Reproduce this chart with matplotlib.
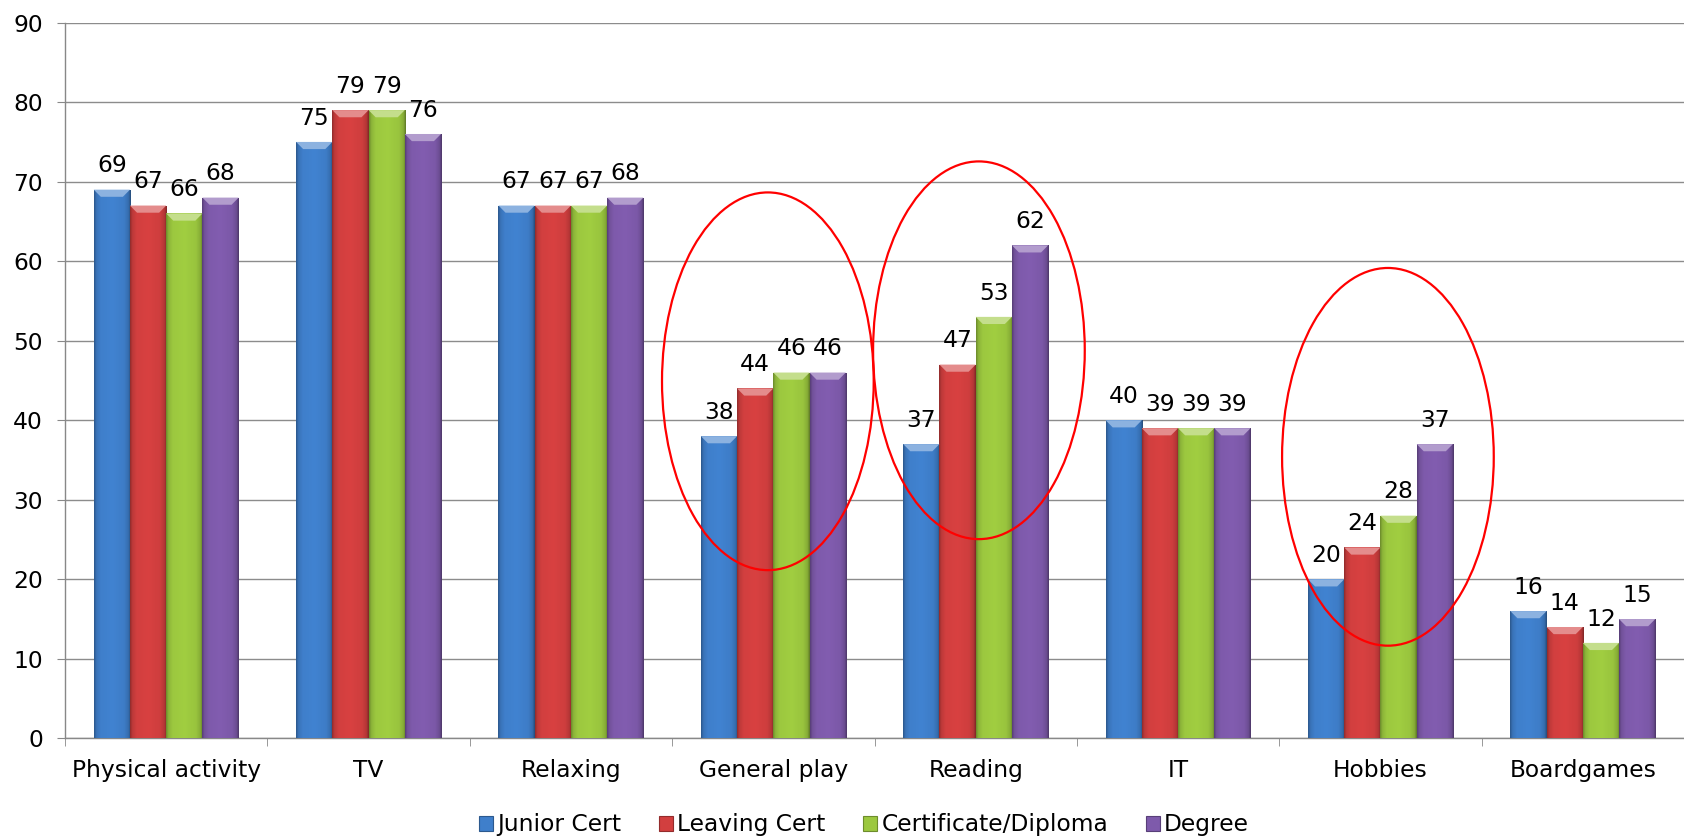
import numpy as np
import matplotlib.pyplot as plt
from matplotlib.patches import Ellipse, Polygon, Patch
from matplotlib.colors import to_rgb

# Dados do gráfico
categorias = ['Physical activity', 'TV', 'Relaxing', 'General play',
              'Reading', 'IT', 'Hobbies', 'Boardgames']
series = ['Junior Cert', 'Leaving Cert', 'Certificate/Diploma', 'Degree']
junior_cert = [69, 75, 67, 38, 37, 40, 20, 16]
leaving_cert = [67, 79, 67, 44, 47, 39, 24, 14]
certificate_diploma = [66, 79, 67, 46, 53, 39, 28, 12]
degree = [68, 76, 68, 46, 62, 39, 37, 15]
valores = [junior_cert, leaving_cert, certificate_diploma, degree]
cores = ['#3f7fcb', '#d23f3f', '#9cc83f', '#7e5aab']

plt.rcParams['font.family'] = ['DejaVu Sans']
fonte = 16.8

fig = plt.figure(figsize=(16.84, 8.39), dpi=100)
ax = fig.add_axes([0.0386, 0.12, 1 - 0.0386, 0.853])

x = np.arange(len(categorias))
largura = 0.179

# Perfil de sombreamento horizontal das barras (efeito de relevo)
px = np.linspace(0, 1, 60)
perfil = np.interp(px, [0, 0.06, 0.18, 0.5, 0.82, 0.94, 1],
                   [0.70, 0.90, 1.0, 1.03, 0.98, 0.86, 0.62])

for j, (vals, cor) in enumerate(zip(valores, cores)):
    pos = x + (j - 1.5) * largura
    barras = ax.bar(pos, vals, width=largura, color=cor, zorder=3,
                    linewidth=0)
    base = np.array(to_rgb(cor))
    img = np.clip(perfil[:, None] * base[None, :], 0, 1)[None, :, :]
    for b, v in zip(barras, vals):
        x0 = b.get_x()
        x1 = x0 + b.get_width()
        im = ax.imshow(img, extent=(x0, x1, 0, v), aspect='auto',
                       zorder=3.1, interpolation='bilinear')
        im.set_clip_path(b)
        # chanfro claro no topo
        dx, dy = 0.035, 0.9
        claro = base * 0.6 + 0.4
        ax.add_patch(Polygon([(x0, v), (x1, v), (x1 - dx, v - dy),
                              (x0 + dx, v - dy)], closed=True,
                             facecolor=claro, edgecolor='none', zorder=3.2))
        ax.annotate(str(v), (b.get_x() + b.get_width() / 2, v),
                    xytext=(0, 12.5), textcoords='offset points',
                    ha='center', va='baseline', fontsize=fonte, zorder=5)

# Elipses vermelhas destacando categorias
destaques = [(3 - 0.027, 44.9), (4 + 0.016, 48.8), (6 + 0.037, 35.4)]
for cx, cy in destaques:
    ax.add_patch(Ellipse((cx, cy), 1.046, 47.5, fill=False,
                         edgecolor='#ff0000', linewidth=1.6, zorder=6))

ax.set_xlim(-0.5, len(categorias) - 0.5)
ax.set_ylim(0, 90)
ax.set_yticks(np.arange(0, 91, 10))
ax.set_xticks(x)
ax.set_xticklabels(categorias)
ax.set_xticks(np.arange(-0.5, len(categorias), 1), minor=True)
ax.tick_params(axis='x', which='major', length=0, pad=15, labelsize=fonte)
ax.tick_params(axis='x', which='minor', length=6, color='#888888')
ax.tick_params(axis='y', length=6, color='#888888', pad=10, labelsize=fonte)

ax.grid(axis='y', color='#8c8c8c', linewidth=1.0, zorder=0)
ax.set_axisbelow(True)
for s in ['top', 'right']:
    ax.spines[s].set_visible(False)
for s in ['left', 'bottom']:
    ax.spines[s].set_color('#888888')
    ax.spines[s].set_linewidth(1.0)

# Legenda
handles = [Patch(facecolor=c, edgecolor=np.array(to_rgb(c)) * 0.7,
                 linewidth=0.8) for c in cores]
fig.legend(handles, series, loc='center', bbox_to_anchor=(0.513, 0.0167),
           ncol=4, frameon=False, fontsize=fonte, handlelength=0.6,
           handleheight=0.6, handletextpad=0.2, columnspacing=1.6)

fig.savefig('out.png', dpi=100)
